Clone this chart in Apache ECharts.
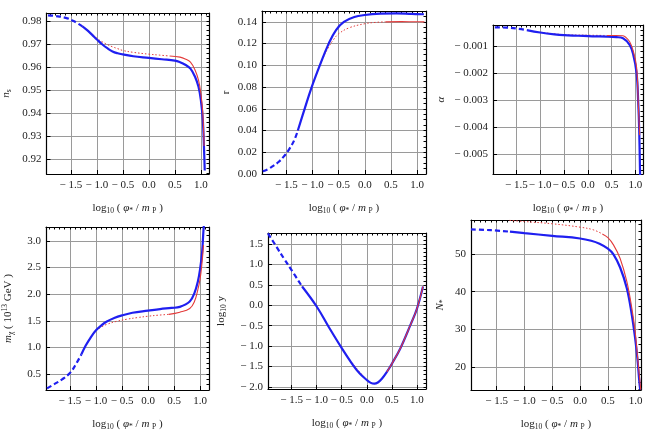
<!DOCTYPE html>
<html>
<head>
<meta charset="utf-8">
<script src="https://cdn.jsdelivr.net/npm/echarts@6/dist/echarts.min.js"></script>
<style>
html, body { margin: 0; background: #fff; }
#chart { width: 646px; height: 439px; }
</style>
</head>
<body>
<div id="chart"></div>
<script>
// shared x ticks
const xTicks = [-1.5, -1.0, -0.5, 0.0, 0.5, 1.0];

// n_s
const nsTicks = [0.92, 0.93, 0.94, 0.95, 0.96, 0.97, 0.98];
const nsBlueDashX = [-1.94, -1.8, -1.6, -1.45, -1.28];
const nsBlueDashY = [0.9825, 0.9822, 0.9814, 0.9800, 0.9777];
const nsBlueX = [-1.28, -1.2, -1.1, -1.0, -0.9, -0.8, -0.7, -0.6, -0.5, -0.3, 0.0, 0.25, 0.5, 0.6, 0.7, 0.8, 0.89, 0.955, 1.0, 1.038, 1.062, 1.075];
const nsBlueY = [0.9777, 0.9763, 0.9742, 0.9720, 0.9699, 0.9682, 0.9668, 0.9660, 0.9655, 0.9647, 0.9640, 0.9634, 0.9628, 0.9621, 0.9610, 0.9593, 0.9557, 0.9514, 0.9457, 0.937, 0.924, 0.915];
const nsRedDotX = [-1.28, -1.1, -1.0, -0.9, -0.8, -0.7, -0.6, -0.5, -0.3, 0.0, 0.2, 0.4];
const nsRedDotY = [0.9777, 0.9745, 0.9725, 0.9710, 0.9698, 0.9688, 0.9680, 0.9672, 0.9664, 0.9656, 0.9652, 0.9648];
const nsRedX = [0.4, 0.6, 0.7, 0.8, 0.89, 0.955, 1.0, 1.038, 1.062];
const nsRedY = [0.9648, 0.9643, 0.9635, 0.9621, 0.9586, 0.9543, 0.9486, 0.940, 0.9257];

// r
const rTicks = [0.00, 0.02, 0.04, 0.06, 0.08, 0.10, 0.12, 0.14];
const rBlueDashX = [-1.95, -1.85, -1.75, -1.65, -1.55, -1.45, -1.35, -1.28];
const rBlueDashY = [0.0025, 0.0045, 0.0075, 0.011, 0.016, 0.0225, 0.031, 0.040];
const rBlueX = [-1.28, -1.15, -1.015, -0.86, -0.69, -0.55, -0.4, -0.2, 0.0, 0.3, 0.6, 0.9, 1.13];
const rBlueY = [0.040, 0.060, 0.080, 0.100, 0.120, 0.1325, 0.140, 0.1445, 0.1463, 0.1475, 0.1478, 0.1473, 0.1470];
const rRedDotX = [-1.28, -1.15, -1.015, -0.9, -0.8, -0.7, -0.6, -0.5, -0.3, 0.0, 0.2, 0.4];
const rRedDotY = [0.040, 0.060, 0.080, 0.095, 0.1065, 0.116, 0.1235, 0.129, 0.1345, 0.1383, 0.1395, 0.1400];
const rRedX = [0.4, 0.7, 1.0, 1.14];
const rRedY = [0.1400, 0.1402, 0.1401, 0.1400];

// alpha
const aTicks = [-0.005, -0.004, -0.003, -0.002, -0.001];
const aBlueDashX = [-1.95, -1.7, -1.5, -1.28];
const aBlueDashY = [-0.00031, -0.00032, -0.00035, -0.00041];
const aBlueX = [-1.28, -1.0, -0.7, -0.5, -0.2, 0.1, 0.4, 0.6, 0.74, 0.88, 0.95, 1.025, 1.06, 1.08, 1.10];
const aBlueY = [-0.00041, -0.00050, -0.00057, -0.00060, -0.00062, -0.00064, -0.00065, -0.00067, -0.00071, -0.00096, -0.00128, -0.0020, -0.0031, -0.0041, -0.0059];
const aRedDotX = [-1.0, -0.5, 0.0, 0.4];
const aRedDotY = [-0.00049, -0.00058, -0.00060, -0.00061];
const aRedX = [0.4, 0.6, 0.74, 0.8, 0.88, 0.95, 1.025, 1.06, 1.09];
const aRedY = [-0.00061, -0.00061, -0.00062, -0.00068, -0.00084, -0.00115, -0.00178, -0.0031, -0.0043];

// m_chi
const mTicks = [0.5, 1.0, 1.5, 2.0, 2.5, 3.0];
const mBlueDashX = [-1.94, -1.8, -1.65, -1.5, -1.4, -1.28];
const mBlueDashY = [0.23, 0.31, 0.40, 0.52, 0.66, 0.87];
const mBlueX = [-1.28, -1.2, -1.1, -1.0, -0.9, -0.8, -0.65, -0.5, -0.3, 0.0, 0.23, 0.45, 0.61, 0.8, 0.89, 0.955, 1.0, 1.038, 1.062, 1.08];
const mBlueY = [0.87, 1.03, 1.19, 1.32, 1.41, 1.48, 1.55, 1.60, 1.65, 1.69, 1.72, 1.74, 1.76, 1.86, 2.02, 2.23, 2.48, 2.79, 3.17, 3.4];
const mRedDotX = [-1.0, -0.9, -0.8, -0.6, -0.4, -0.2, 0.0, 0.2, 0.4];
const mRedDotY = [1.32, 1.38, 1.43, 1.49, 1.53, 1.56, 1.585, 1.605, 1.62];
const mRedX = [0.4, 0.61, 0.8, 0.89, 0.955, 1.0, 1.038, 1.065];
const mRedY = [1.62, 1.66, 1.73, 1.86, 2.08, 2.29, 2.61, 2.92];

// log10 y
const lyTicks = [-2.0, -1.5, -1.0, -0.5, 0.0, 0.5, 1.0, 1.5];
const lyBlueDashX = [-1.97, -1.8, -1.65, -1.5, -1.29];
const lyBlueDashY = [1.76, 1.43, 1.14, 0.86, 0.46];
const lyBlueX = [-1.29, -1.0, -0.75, -0.5, -0.3, -0.15, 0.0, 0.08, 0.15, 0.22, 0.3, 0.4, 0.5, 0.67, 0.87, 1.0, 1.12];
const lyBlueY = [0.46, -0.03, -0.55, -1.05, -1.42, -1.66, -1.83, -1.90, -1.92, -1.89, -1.80, -1.63, -1.43, -1.05, -0.48, -0.08, 0.46];
const lyRedDotX = [-1.29, -1.0, -0.5, 0.0, 0.15, 0.3, 0.4];
const lyRedDotY = [0.46, -0.03, -1.05, -1.83, -1.92, -1.80, -1.63];
const lyRedX = [0.4, 0.5, 0.67, 0.87, 1.0, 1.12];
const lyRedY = [-1.63, -1.43, -1.05, -0.48, -0.08, 0.46];

// N_*
const nTicks = [20, 30, 40, 50];
const nBlueDashX = [-1.96, -1.6, -1.26];
const nBlueDashY = [56.5, 56.3, 55.9];
const nBlueX = [-1.26, -1.0, -0.5, 0.0, 0.2, 0.35, 0.5, 0.6, 0.72, 0.84, 0.93, 0.99, 1.03, 1.06, 1.08];
const nBlueY = [55.9, 55.5, 54.8, 54.1, 53.5, 52.7, 51.4, 49.9, 46.4, 40.9, 33.8, 27.6, 22.3, 17.0, 14.0];
const nRedDotX = [-1.27, -1.0, -0.5, 0.0, 0.237, 0.4];
const nRedDotY = [58.9, 58.6, 58.0, 57.1, 56.4, 55.3];
const nRedX = [0.4, 0.5, 0.6, 0.72, 0.84, 0.93, 0.99, 1.03, 1.07, 1.09];
const nRedY = [55.3, 54.3, 52.4, 48.8, 42.7, 35.6, 29.4, 23.2, 17.0, 14.0];

const FONT = 'Liberation Serif';
const BLUE = '#1f1ff0';
const RED = '#e33b3b';

function pairs(xs, ys) {
    return xs.map((x, i) => [x, ys[i]]);
}

function steps(lo, hi, step) {
    const out = [];
    const k0 = Math.ceil(lo / step - 1e-6), k1 = Math.floor(hi / step + 1e-6);
    for (let k = k0; k <= k1; k++) out.push(+(k * step).toFixed(6));
    return out;
}

function signed(d) {
    return v => (v < 0 ? '\u2212 ' + (-v).toFixed(d) : v.toFixed(d));
}

const xName = 'log{sub|10} ( {it|\u03c6}{sub|*} / {it|m} {sub|P} )';
const rich = {
    it: { fontStyle: 'italic', fontFamily: FONT, fontSize: 11, color: '#222' },
    sub: { fontSize: 7.5, fontFamily: FONT, color: '#222', padding: [6, 0, 0, 0] },
    sup: { fontSize: 7.5, fontFamily: FONT, color: '#222', padding: [0, 0, 6, 0] }
};

const panels = [
    { grid: { left: 44, top: 13, width: 165, height: 161 }, x: [-1.97, 1.157], y: [0.9135, 0.9835],
      yTicks: nsTicks, yMinor: 0.002, yFmt: signed(2), yName: '{it|n}{sub|s}', yGap: 33,
      s: [[nsRedDotX, nsRedDotY], [nsBlueDashX, nsBlueDashY], [nsBlueX, nsBlueY], [nsRedX, nsRedY]] },
    { grid: { left: 262, top: 11, width: 164, height: 163 }, x: [-1.965, 1.17], y: [0, 0.150],
      yTicks: rTicks, yMinor: 0.005, yFmt: signed(2), yName: 'r', yGap: 30,
      s: [[rRedDotX, rRedDotY], [rBlueDashX, rBlueDashY], [rBlueX, rBlueY], [rRedX, rRedY]] },
    { grid: { left: 493, top: 25, width: 150, height: 149 }, x: [-1.99, 1.16], y: [-0.00574, -0.000222],
      yTicks: aTicks, yMinor: 0.0002, yFmt: signed(3), yName: '{it|\u03b1}', yGap: 46,
      s: [[aRedDotX, aRedDotY], [aBlueDashX, aBlueDashY], [aBlueX, aBlueY], [aRedX, aRedY]] },
    { grid: { left: 44, top: 227, width: 165, height: 163 }, x: [-1.96, 1.17], y: [0.2, 3.26],
      yTicks: mTicks, yMinor: 0.1, yFmt: signed(1), yName: '{it|m}{sub|\u03c7} ( 10{sup|13} GeV )', yGap: 31,
      s: [[mRedDotX, mRedDotY], [mBlueDashX, mBlueDashY], [mBlueX, mBlueY], [mRedX, mRedY]] },
    { grid: { left: 268, top: 233, width: 158, height: 156 }, x: [-1.97, 1.18], y: [-2.05, 1.77],
      yTicks: lyTicks, yMinor: 0.1, yFmt: signed(1), yName: 'log{sub|10} y', yGap: 40,
      s: [[lyRedDotX, lyRedDotY], [lyBlueDashX, lyBlueDashY], [lyBlueX, lyBlueY], [lyRedX, lyRedY]] },
    { grid: { left: 471, top: 220, width: 170, height: 170 }, x: [-1.96, 1.095], y: [13.9, 59.0],
      yTicks: nTicks, yMinor: 2, yFmt: v => String(v), yName: '{it|N}{sub|*}', yGap: 24,
      s: [[nRedDotX, nRedDotY], [nBlueDashX, nBlueDashY], [nBlueX, nBlueY], [nRedX, nRedY]] }
];

const frame = { show: true, onZero: false, lineStyle: { color: '#000', width: 1.2 } };
const labelStyle = { fontFamily: FONT, fontSize: 11, color: '#222' };
const lineKinds = [
    { color: RED, width: 1, type: [1.5, 2] },
    { color: BLUE, width: 2.2, type: [5, 3] },
    { color: BLUE, width: 2.2, type: 'solid' },
    { color: RED, width: 1.1, type: 'solid' }
];

const grid = [], xAxis = [], yAxis = [], series = [];
panels.forEach((p, i) => {
    grid.push(p.grid);
    xAxis.push({
        type: 'value', gridIndex: i, position: 'bottom', min: p.x[0], max: p.x[1],
        axisLine: frame,
        axisTick: { show: true, inside: true, length: 4, customValues: xTicks, lineStyle: { color: '#000' } },
        axisLabel: Object.assign({ customValues: xTicks, formatter: signed(1), margin: 6 }, labelStyle),
        splitLine: { show: true, lineStyle: { color: '#9a9a9a', width: 1 } },
        name: xName, nameLocation: 'middle', nameGap: 27,
        nameTextStyle: Object.assign({ rich: rich }, labelStyle)
    });
    xAxis.push({
        type: 'value', gridIndex: i, position: 'top', min: p.x[0], max: p.x[1],
        axisLine: frame,
        axisTick: { show: true, inside: true, length: 2.5, customValues: steps(p.x[0], p.x[1], 0.1), lineStyle: { color: '#000' } },
        axisLabel: { show: false }, splitLine: { show: false }
    });
    yAxis.push({
        type: 'value', gridIndex: i, position: 'left', min: p.y[0], max: p.y[1],
        axisLine: frame,
        axisTick: { show: true, inside: true, length: 4, customValues: p.yTicks, lineStyle: { color: '#000' } },
        axisLabel: Object.assign({ customValues: p.yTicks, formatter: p.yFmt, margin: 5 }, labelStyle),
        splitLine: { show: true, lineStyle: { color: '#9a9a9a', width: 1 } },
        name: p.yName, nameLocation: 'middle', nameGap: p.yGap,
        nameTextStyle: Object.assign({ rich: rich }, labelStyle)
    });
    yAxis.push({
        type: 'value', gridIndex: i, position: 'right', min: p.y[0], max: p.y[1],
        axisLine: frame,
        axisTick: { show: true, inside: true, length: 2.5, customValues: steps(p.y[0], p.y[1], p.yMinor), lineStyle: { color: '#000' } },
        axisLabel: { show: false }, splitLine: { show: false }
    });
    p.s.forEach((d, k) => {
        series.push({
            type: 'line', xAxisIndex: 2 * i, yAxisIndex: 2 * i,
            data: pairs(d[0], d[1]),
            showSymbol: false, symbol: 'none',
            smooth: 0.4,
            lineStyle: lineKinds[k],
            z: 2 + k
        });
    });
});

const chart = echarts.init(document.getElementById('chart'), null, { renderer: 'canvas' });
chart.setOption({
    animation: false,
    backgroundColor: '#fff',
    grid: grid,
    xAxis: xAxis,
    yAxis: yAxis,
    series: series
});
</script>
</body>
</html>
